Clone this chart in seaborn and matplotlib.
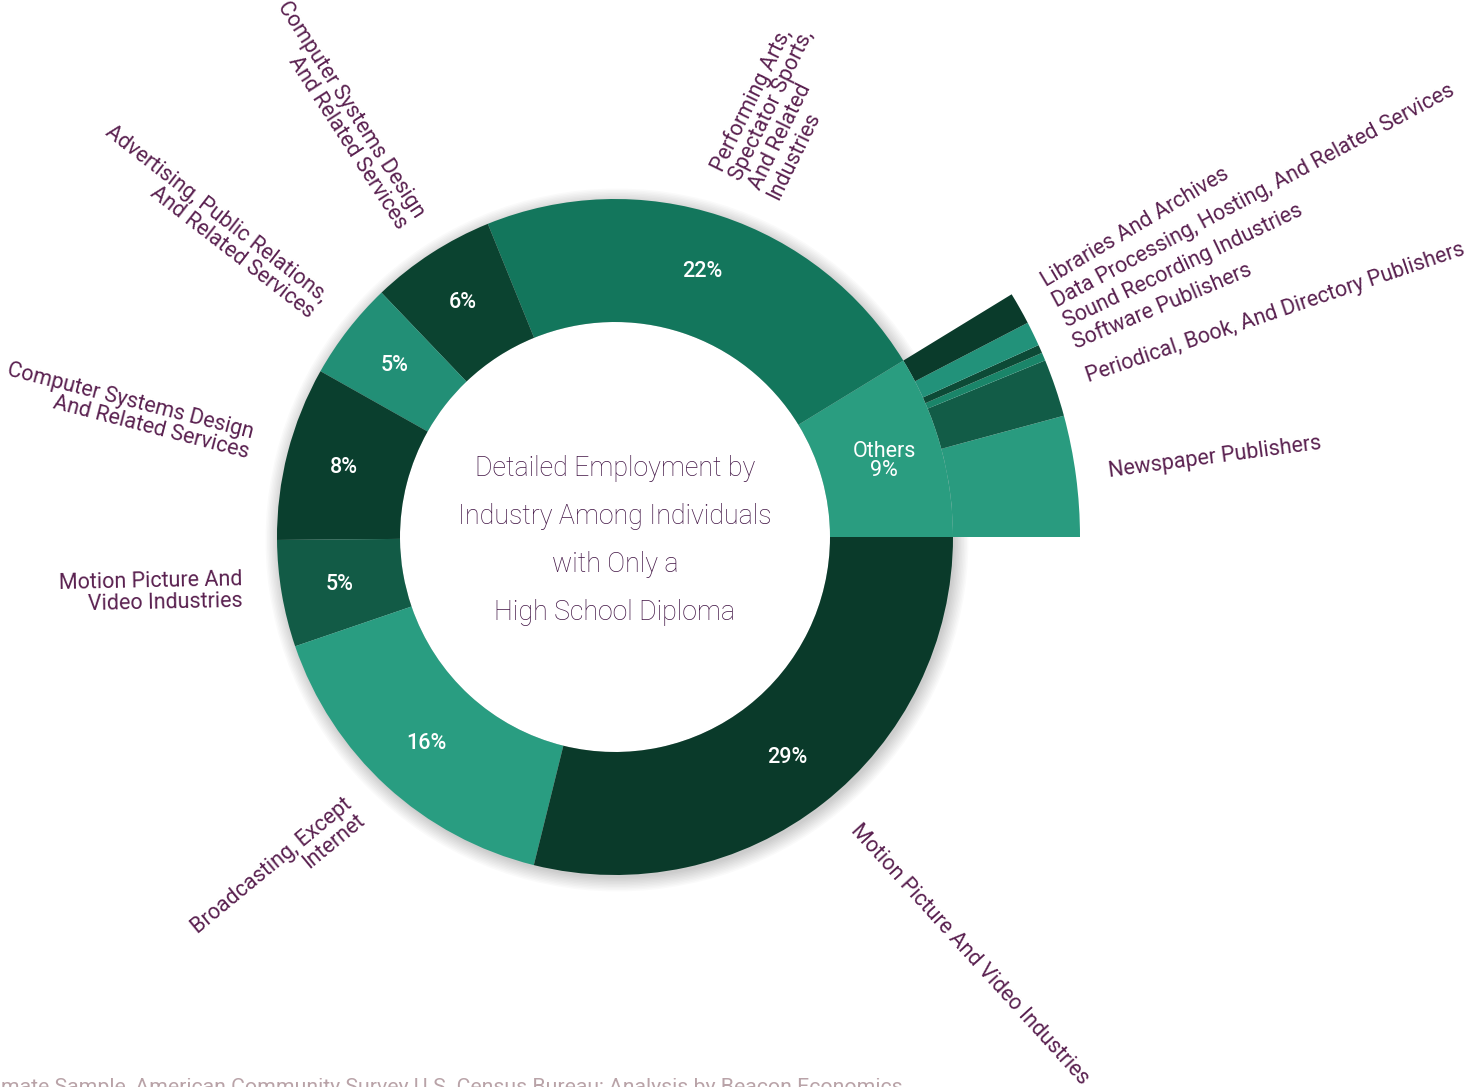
import numpy as np
import matplotlib.pyplot as plt
import seaborn as sns

# DATA (shares of employment, percent)
main_labels = ['Others',
               'Performing Arts,\nSpectator Sports,\nAnd Related\nIndustries',
               'Computer Systems Design\nAnd Related Services',
               'Advertising, Public Relations,\nAnd Related Services',
               'Computer Systems Design\nAnd Related Services',
               'Motion Picture And\nVideo Industries',
               'Broadcasting, Except\nInternet',
               'Motion Picture And Video Industries']
main_values = [8.74, 22.4, 6.0, 4.7, 8.3, 5.1, 15.9, 28.86]
main_colors = ['#2a9d80', '#13765c', '#0b4330', '#228f76',
               '#0a3f2e', '#125b46', '#299d81', '#0a3a2a']

other_labels = ['Newspaper Publishers',
                'Periodical, Book, And Directory Publishers',
                'Software Publishers',
                'Sound Recording Industries',
                'Data Processing, Hosting, And Related Services',
                'Libraries And Archives']
other_values = [4.2, 2.0, 0.28, 0.29, 0.85, 1.12]
other_colors = ['#299b7f', '#125c47', '#1a8569', '#0d4a36', '#22927a', '#0a3b2b']

title_lines = ['Detailed Employment by', 'Industry Among Individuals',
               'with Only a', 'High School Diploma']
source_text = ('5-Year Estimate Sample, American Community Survey U.S. Census Bureau; '
               'Analysis by Beacon Economics')

LABEL_COLOR = '#5a2150'
TITLE_COLOR = '#421545'
LABEL_SIZE = 15.5
# the original layout tilts a few outside labels a little toward horizontal
LABEL_TILT = {1: (-2, -8), 5: (-1.5, -8.5), 6: (-1, -8), 7: (1.5, 4.2)}

sns.set_theme(style='white')
plt.rcParams['font.family'] = ['Roboto', 'DejaVu Sans']

fig = plt.figure(figsize=(14.7, 10.87), dpi=100)
ax = fig.add_axes([0, 0, 1, 1])

R_IN, R_OUT, R_EXP = 215, 338, 465

# exploded ring with the breakdown of "Others"
ax.pie(np.array(other_values) / 100, normalize=False, radius=R_EXP, startangle=0,
       colors=other_colors, wedgeprops=dict(width=R_EXP - R_OUT, linewidth=0))

# soft shadow under the main ring
for k in range(10):
    ax.add_patch(plt.Circle((2, -3), R_OUT + 1.5 * k, color='black',
                            alpha=0.018, lw=0, zorder=0.5))
ax.add_patch(plt.Circle((0, 0), R_IN, color='white', lw=0, zorder=0.6))

wedges, _ = ax.pie(main_values, radius=R_OUT, startangle=0, colors=main_colors,
                   wedgeprops=dict(width=R_OUT - R_IN, linewidth=0))
for w in wedges:
    w.set_zorder(2)

# percent labels and outside labels for the main ring
start = 0.0
total = sum(main_values)
for i, (lab, val) in enumerate(zip(main_labels, main_values)):
    span = 360 * val / total
    deg = start + span / 2
    start += span
    mid = np.deg2rad(deg)
    r_mid = (R_IN + R_OUT) / 2 + 3
    pct = f'{val:.0f}%'
    if lab == 'Others':
        ax.text(r_mid * np.cos(mid), r_mid * np.sin(mid), f'Others\n{pct}',
                color='white', ha='center', va='center', fontsize=15.5,
                linespacing=0.85, zorder=3)
        continue
    ax.text(r_mid * np.cos(mid), r_mid * np.sin(mid), pct, color='white',
            ha='center', va='center', fontsize=15.5, fontweight='medium', zorder=3)
    d_pos, d_rot = LABEL_TILT.get(i, (0, 0))
    a = np.deg2rad(deg + d_pos)
    x, y = 376 * np.cos(a), 376 * np.sin(a)
    if 90 < deg < 270:
        ax.text(x, y, lab, rotation=deg - 180 + d_rot, rotation_mode='anchor',
                ha='right', va='center', multialignment='right',
                color=LABEL_COLOR, fontsize=LABEL_SIZE, linespacing=1.0)
    else:
        ax.text(x, y, lab, rotation=deg + d_rot, rotation_mode='anchor',
                ha='left', va='center', multialignment='left',
                color=LABEL_COLOR, fontsize=LABEL_SIZE, linespacing=1.0)

# labels for the exploded ring, spread apart so they do not collide
mids = []
start = 0.0
for val in other_values:
    span = 360 * val / 100
    mids.append(start + span / 2)
    start += span
placed = []
for m in mids:
    if placed:
        m = max(m, placed[-1] + 2.65)
    placed.append(m)
for lab, ang in zip(other_labels, placed):
    a = np.deg2rad(ang)
    ax.text(498 * np.cos(a), 498 * np.sin(a), lab, rotation=ang,
            rotation_mode='anchor', ha='left', va='center',
            color=LABEL_COLOR, fontsize=LABEL_SIZE)

# centre title
for i, line in enumerate(title_lines):
    ax.text(0, 69 - 48 * i, line, ha='center', va='center', color=TITLE_COLOR,
            fontsize=19.3, fontweight='light')

# source line (runs off the bottom-left edge)
ax.text(288, -556, source_text, ha='right', va='baseline', color='#b9a3a8',
        fontsize=15.3)

ax.set_xlim(-615, 855)
ax.set_ylim(-550, 537)
ax.set_aspect('equal')
ax.axis('off')

fig.savefig('out.png', dpi=100)
